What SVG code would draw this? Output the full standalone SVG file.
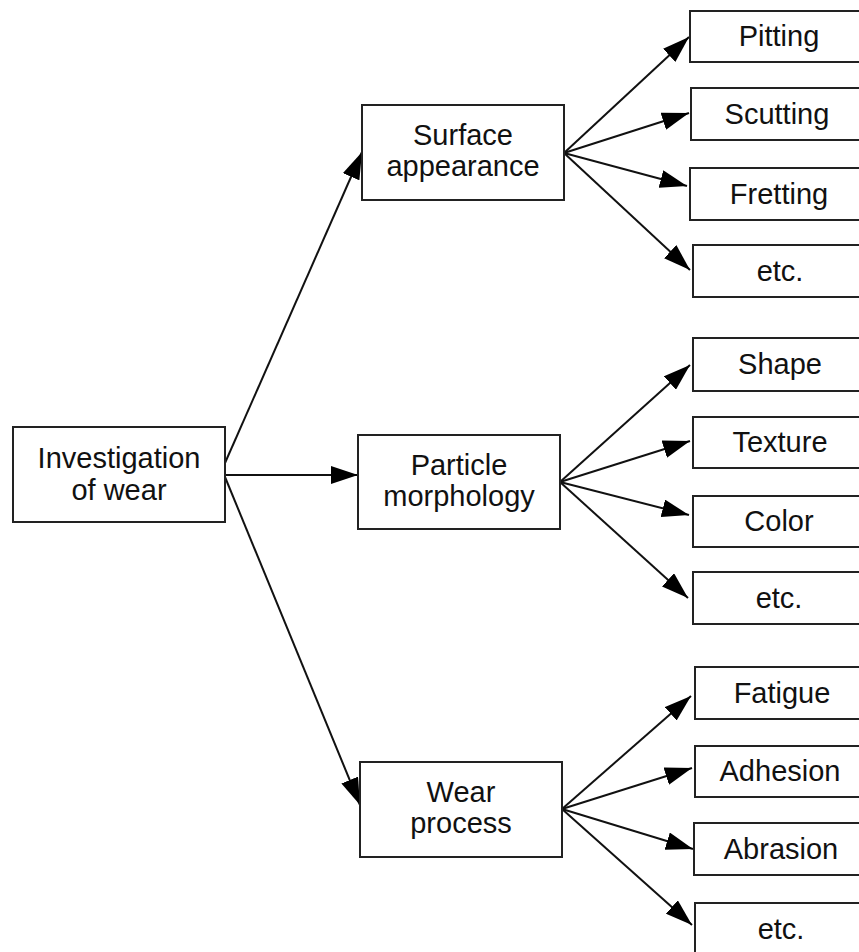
<svg xmlns="http://www.w3.org/2000/svg" width="859" height="952" viewBox="0 0 859 952">
  <style>
    .box { fill: #ffffff; stroke: #222222; stroke-width: 2; }
    .lbl { font-family: "Liberation Sans", Arial, sans-serif; font-size: 29px; fill: #111111; text-anchor: middle; }
    .link { stroke: #111111; stroke-width: 2; fill: none; marker-end: url(#arrow); }
  </style>
  <defs>
    <marker id="arrow" markerUnits="userSpaceOnUse" markerWidth="27" markerHeight="18" refX="27" refY="9" orient="auto">
      <path d="M0,0 L27,9 L0,18 Z" fill="#000000"/>
    </marker>
  </defs>
  <rect width="859" height="952" fill="#ffffff"/>

  <!-- connectors -->
  <g id="connectors">
    <!-- root to categories -->
    <line class="link" x1="225" y1="463" x2="362" y2="152"/>
    <line class="link" x1="225" y1="475" x2="358" y2="475"/>
    <line class="link" x1="225" y1="477" x2="360" y2="805"/>
    <!-- surface appearance fan -->
    <line class="link" x1="564" y1="153" x2="689" y2="37"/>
    <line class="link" x1="564" y1="153" x2="689" y2="113"/>
    <line class="link" x1="564" y1="153" x2="687" y2="186"/>
    <line class="link" x1="564" y1="153" x2="690" y2="270"/>
    <!-- particle morphology fan -->
    <line class="link" x1="560" y1="482" x2="690" y2="365"/>
    <line class="link" x1="560" y1="482" x2="690" y2="441"/>
    <line class="link" x1="560" y1="482" x2="689" y2="515"/>
    <line class="link" x1="560" y1="482" x2="688" y2="598"/>
    <!-- wear process fan -->
    <line class="link" x1="562" y1="809" x2="691" y2="696"/>
    <line class="link" x1="562" y1="809" x2="692" y2="768"/>
    <line class="link" x1="562" y1="809" x2="693" y2="849"/>
    <line class="link" x1="562" y1="809" x2="692" y2="925"/>
  </g>

  <!-- root -->
  <g id="investigation">
    <rect class="box" x="13" y="427" width="212" height="95"/>
    <text class="lbl" x="119" y="468">Investigation</text>
    <text class="lbl" x="119" y="500">of wear</text>
  </g>

  <!-- categories -->
  <g id="surface">
    <rect class="box" x="362" y="105" width="202" height="95"/>
    <text class="lbl" x="463" y="145">Surface</text>
    <text class="lbl" x="463" y="176">appearance</text>
  </g>
  <g id="particle">
    <rect class="box" x="358" y="435" width="202" height="94"/>
    <text class="lbl" x="459" y="475">Particle</text>
    <text class="lbl" x="459" y="506">morphology</text>
  </g>
  <g id="process">
    <rect class="box" x="360" y="762" width="202" height="95"/>
    <text class="lbl" x="461" y="802">Wear</text>
    <text class="lbl" x="461" y="833">process</text>
  </g>

  <!-- surface appearance leaves -->
  <g id="pitting">
    <rect class="box" x="690" y="11" width="180" height="51"/>
    <text class="lbl" x="779" y="46">Pitting</text>
  </g>
  <g id="scutting">
    <rect class="box" x="691" y="88" width="180" height="52"/>
    <text class="lbl" x="777" y="124">Scutting</text>
  </g>
  <g id="fretting">
    <rect class="box" x="690" y="168" width="180" height="52"/>
    <text class="lbl" x="779" y="204">Fretting</text>
  </g>
  <g id="surface-etc">
    <rect class="box" x="693" y="245" width="180" height="52"/>
    <text class="lbl" x="780" y="281">etc.</text>
  </g>

  <!-- particle morphology leaves -->
  <g id="shape">
    <rect class="box" x="693" y="338" width="180" height="53"/>
    <text class="lbl" x="780" y="374">Shape</text>
  </g>
  <g id="texture">
    <rect class="box" x="693" y="417" width="180" height="51"/>
    <text class="lbl" x="780" y="452">Texture</text>
  </g>
  <g id="color">
    <rect class="box" x="693" y="496" width="180" height="51"/>
    <text class="lbl" x="779" y="531">Color</text>
  </g>
  <g id="particle-etc">
    <rect class="box" x="693" y="572" width="180" height="52"/>
    <text class="lbl" x="779" y="608">etc.</text>
  </g>

  <!-- wear process leaves -->
  <g id="fatigue">
    <rect class="box" x="695" y="667" width="180" height="52"/>
    <text class="lbl" x="782" y="703">Fatigue</text>
  </g>
  <g id="adhesion">
    <rect class="box" x="695" y="746" width="180" height="51"/>
    <text class="lbl" x="780" y="781">Adhesion</text>
  </g>
  <g id="abrasion">
    <rect class="box" x="694" y="823" width="180" height="52"/>
    <text class="lbl" x="781" y="859">Abrasion</text>
  </g>
  <g id="process-etc">
    <rect class="box" x="695" y="903" width="180" height="60"/>
    <text class="lbl" x="781" y="939">etc.</text>
  </g>
</svg>
